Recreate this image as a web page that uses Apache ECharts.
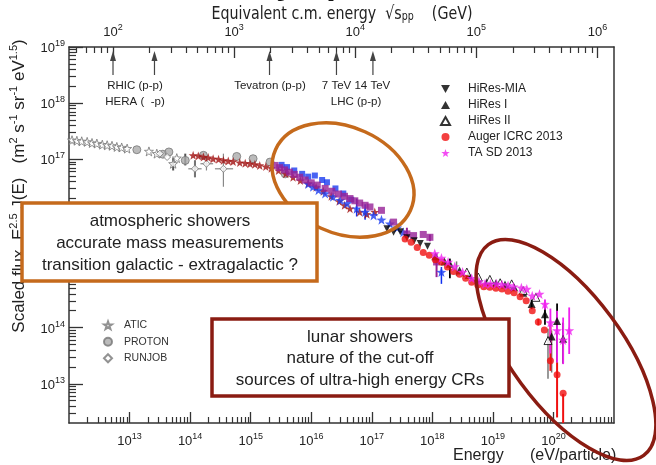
<!DOCTYPE html>
<html><head><meta charset="utf-8">
<script src="https://cdn.jsdelivr.net/npm/echarts@6/dist/echarts.min.js"></script>
<style>html,body{margin:0;padding:0;background:#fff}#c{width:656px;height:465px}</style>
</head><body><div id="c"></div>
<script>
// ---------- data: values are [log10(E / eV), log10(scaled flux)] ----------
const xMajorExp = [13,14,15,16,17,18,19,20,21];
const yMajorExp = [13,14,15,16,17,18,19];
const topMajorExp = [2,3,4,5,6];
const accelCmEnergies = [100, 220, 1960, 7000, 14000]; // GeV, arrows on the top axis

const aticPts = [[12.05,17.34],[12.13,17.33],[12.21,17.32],[12.30,17.31],[12.38,17.29],[12.46,17.28],[12.55,17.26],[12.63,17.25],[12.71,17.24],[12.79,17.22],[12.87,17.21],[12.96,17.19],[13.32,17.14],[13.45,17.10],[13.72,16.92],[13.78,17.02]];
const protonPts = [[13.12,17.17],[13.55,17.09],[13.65,17.13],[13.92,16.98],[14.22,17.07],[14.77,17.05],[15.04,17.01],[15.32,16.95],[15.57,16.74]];
const runjobPts = [[13.50,17.10],[13.62,17.04],[14.08,16.83],[14.27,16.92],[14.55,16.83]];
const tibetPts = [[14.05,17.07],[14.135,17.06],[14.22,17.04],[14.30,17.03],[14.38,17.01],[14.47,17.00],[14.55,16.98],[14.63,16.97],[14.71,16.96],[14.82,16.94],[14.91,16.93],[14.99,16.92],[15.07,16.91],[15.15,16.89],[15.25,16.87],[15.34,16.84],[15.46,16.80],[15.58,16.74],[15.70,16.68],[15.82,16.62],[15.95,16.57],[16.08,16.50],[16.20,16.43],[16.33,16.34],[16.46,16.25],[16.55,16.18],[16.64,16.12],[16.80,16.06],[16.92,16.02],[17.05,16.06]];
const blueSquarePts = [[15.51,16.90],[15.60,16.86],[15.72,16.80],[15.85,16.74],[15.95,16.69],[16.06,16.71],[16.18,16.63],[16.26,16.59],[16.40,16.48],[16.53,16.39],[16.66,16.28]];
const blueStarPts = [[15.95,16.56],[16.03,16.51],[16.12,16.45],[16.23,16.39],[16.36,16.33],[16.48,16.27],[16.59,16.21],[16.75,16.12],[16.89,16.06],[17.03,16.00],[17.16,15.92],[17.30,15.85],[17.42,15.78],[17.52,15.70],[18.15,14.99]];
const purplePts = [[15.40,16.89],[15.48,16.85],[15.56,16.81],[15.64,16.77],[15.72,16.73],[15.81,16.68],[15.90,16.63],[16.00,16.58],[16.10,16.54],[16.23,16.48],[16.34,16.43],[16.45,16.38],[16.55,16.34],[16.64,16.30],[16.72,16.26],[16.80,16.22],[16.89,16.18],[16.97,16.15],[17.16,16.09],[17.36,15.88],[17.58,15.67],[17.69,15.64],[17.85,15.66],[17.96,15.61],[18.07,15.17]];
const hiresMiaPts = [[17.25,15.76],[17.36,15.70],[17.47,15.71],[17.58,15.60],[17.70,15.55],[17.80,15.50],[17.92,15.45]];
const hiresIPts = [[18.05,15.27],[18.20,15.18],[18.29,15.14],[18.45,15.02],[18.60,14.94],[18.75,14.86],[18.90,14.81],[19.05,14.79],[19.20,14.77],[19.35,14.72],[19.50,14.62],[19.64,14.42],[19.86,14.24],[19.97,13.84],[20.06,14.12],[20.16,13.80]];
const hiresIIPts = [[18.57,14.99],[18.76,14.90],[18.95,14.86],[19.12,14.80],[19.31,14.78],[19.50,14.66],[19.71,14.54],[19.91,13.77]];
const augerPts = [[17.55,15.58],[17.65,15.52],[17.75,15.43],[17.85,15.34],[17.95,15.29],[18.05,15.21],[18.15,15.17],[18.25,15.08],[18.35,15.00],[18.45,14.95],[18.55,14.88],[18.65,14.81],[18.75,14.76],[18.85,14.73],[18.95,14.72],[19.05,14.70],[19.15,14.69],[19.25,14.65],[19.35,14.62],[19.45,14.55],[19.55,14.48],[19.65,14.30],[19.75,14.10],[19.85,13.96],[19.95,13.41],[20.06,13.16],[20.16,12.83]];
const taPts = [[18.04,15.32],[18.15,15.24],[18.26,15.17],[18.37,15.09],[18.50,14.99],[18.65,14.88],[18.77,14.82],[18.87,14.78],[18.96,14.78],[19.06,14.78],[19.15,14.77],[19.25,14.75],[19.34,14.73],[19.47,14.71],[19.56,14.69],[19.65,14.57],[19.77,14.60],[19.86,14.42],[19.95,14.09],[20.06,13.95],[20.16,13.78],[20.26,13.95]];

// error bars: [log10 E, log10 low, log10 high]
const grayErr = [[13.72,17.02,16.80],[13.92,17.10,16.89],[14.08,16.98,16.68]];
const runjobErr = [[14.08,16.98,16.68],[14.27,17.02,16.80],[14.55,17.10,16.51]];
const runjobXErr = [[16.83,13.97,14.19],[16.92,14.17,14.38],[16.83,14.41,14.71]]; // [log10 flux, log10 Elow, log10 Ehigh]
const blueErr = [[16.75,16.30,15.98],[16.89,16.20,15.92],[18.15,15.08,14.78]];
const purpleErr = [[17.58,15.78,15.60],[17.96,15.66,15.54],[18.07,15.32,14.90]];
const blackErr = [[18.29,15.23,14.88],[19.64,14.50,14.33],[19.86,14.36,14.05],[20.06,14.43,13.38],[20.16,14.09,13.36]];
const grayHiresErr = [[18.40,15.18,14.92],[19.91,13.98,13.09],[19.97,13.95,13.20]];
const augerErr = [[19.75,14.16,14.04],[19.95,14.04,13.23],[20.06,13.38,12.40],[20.16,12.82,12.0]];
const taErr = [[19.86,14.50,14.32],[19.95,14.34,13.54],[20.06,14.30,13.38],[20.16,14.18,13.35],[20.26,14.36,13.53]];

// ---------- helpers ----------
const P = v => Math.pow(10, v);
const toPts = a => a.map(d => [P(d[0]), P(d[1])]);
const toBars = a => a.map(d => [P(d[0]), P(d[1]), P(d[2])]);
const FONT = 'Liberation Sans';
const X_MIN = 1e12, X_MAX = 1e21, Y_MIN = 2e12, Y_MAX = 1e19;
const MP = 0.938;
const cmOf = E => Math.sqrt(2 * MP * E * 1e-9);   // sqrt(s) in GeV for lab energy E in eV
const TOP_MIN = cmOf(X_MIN), TOP_MAX = cmOf(X_MAX);
const minorVals = (e0, e1) => { const r = []; for (let e = e0; e <= e1; e++) for (let k = 2; k <= 9; k++) r.push(k * P(e)); return r; };
const STAR = 'path://M0,-10 L2.35,-3.24 L9.51,-3.09 L3.8,1.24 L5.88,8.09 L0,4 L-5.88,8.09 L-3.8,1.24 L-9.51,-3.09 L-2.35,-3.24 Z';
const DOWN_TRI = 'path://M0,0 L10,0 L5,9 Z';
const supFmt = v => '{b|10}{s|' + Math.round(Math.log10(v)) + '}';
const labRich = {
  b: {fontSize: 13, fontFamily: FONT, color: '#222', verticalAlign: 'bottom'},
  s: {fontSize: 9, fontFamily: FONT, color: '#222', verticalAlign: 'bottom', padding: [0, 0, 7, 0]}
};
const AX = '#333';

function vBar(bars, color, w) {
  return {type: 'custom', xAxisIndex: 0, yAxisIndex: 0, clip: true, z: 2, silent: true, data: toBars(bars),
    renderItem(p, api) {
      const a = api.coord([api.value(0), api.value(1)]), b = api.coord([api.value(0), api.value(2)]);
      return {type: 'line', shape: {x1: a[0], y1: a[1], x2: b[0], y2: b[1]}, style: {stroke: color, lineWidth: w}};
    }};
}
function hBar(bars, color, w) {
  return {type: 'custom', xAxisIndex: 0, yAxisIndex: 0, clip: true, z: 2, silent: true,
    data: bars.map(d => [P(d[1]), P(d[0]), P(d[2])]),
    renderItem(p, api) {
      const a = api.coord([api.value(0), api.value(1)]), b = api.coord([api.value(2), api.value(1)]);
      return {type: 'line', shape: {x1: a[0], y1: a[1], x2: b[0], y2: b[1]}, style: {stroke: color, lineWidth: w}};
    }};
}
function sc(name, pts, symbol, size, itemStyle, extra) {
  return Object.assign({type: 'scatter', name, xAxisIndex: 0, yAxisIndex: 0, data: toPts(pts), symbol, symbolSize: size, itemStyle, z: 3, silent: true}, extra || {});
}

const chart = echarts.init(document.getElementById('c'), null, {renderer: 'canvas'});
const xAxisBase = {type: 'log', min: X_MIN, max: X_MAX, splitLine: {show: false}, gridIndex: 0};
const topBase = {type: 'log', min: TOP_MIN, max: TOP_MAX, splitLine: {show: false}, gridIndex: 0, position: 'top'};
const yBase = {type: 'log', min: Y_MIN, max: Y_MAX, splitLine: {show: false}, gridIndex: 0};

const option = {
  animation: false,
  backgroundColor: '#fff',
  grid: {left: 69, right: 42, top: 47, bottom: 42, containLabel: false},
  xAxis: [
    Object.assign({}, xAxisBase, {position: 'bottom',
      axisLine: {show: true, lineStyle: {color: AX, width: 1.5}},
      axisTick: {show: true, inside: true, length: 11, customValues: xMajorExp.map(P), lineStyle: {color: AX, width: 1.3}},
      axisLabel: {show: true, customValues: xMajorExp.map(P), formatter: supFmt, rich: labRich, margin: 9}}),
    Object.assign({}, xAxisBase, {position: 'bottom', axisLine: {show: false},
      axisTick: {show: true, inside: true, length: 6, customValues: minorVals(12, 20), lineStyle: {color: AX, width: 1.2}},
      axisLabel: {show: false}}),
    Object.assign({}, topBase, {
      axisLine: {show: true, lineStyle: {color: AX, width: 1.5}},
      axisTick: {show: true, inside: true, length: 11, customValues: topMajorExp.map(P), lineStyle: {color: AX, width: 1.3}},
      axisLabel: {show: true, customValues: topMajorExp.map(P), formatter: supFmt, rich: labRich, margin: 8}}),
    Object.assign({}, topBase, {axisLine: {show: false},
      axisTick: {show: true, inside: true, length: 6, customValues: minorVals(1, 6).filter(v => v > TOP_MIN && v < TOP_MAX), lineStyle: {color: AX, width: 1.2}},
      axisLabel: {show: false}})
  ],
  yAxis: [
    Object.assign({}, yBase, {position: 'left',
      axisLine: {show: true, lineStyle: {color: AX, width: 1.5}},
      axisTick: {show: true, inside: true, length: 14, customValues: yMajorExp.map(P), lineStyle: {color: AX, width: 1.3}},
      axisLabel: {show: true, customValues: yMajorExp.map(P), formatter: supFmt, rich: labRich, margin: 4}}),
    Object.assign({}, yBase, {position: 'left', axisLine: {show: false},
      axisTick: {show: true, inside: true, length: 7, customValues: minorVals(12, 18).filter(v => v > Y_MIN), lineStyle: {color: AX, width: 1.2}},
      axisLabel: {show: false}}),
    Object.assign({}, yBase, {position: 'right', axisLine: {show: true, lineStyle: {color: AX, width: 1.5}},
      axisTick: {show: false}, axisLabel: {show: false}})
  ],
  legend: [
    {data: [{name: 'HiRes-MIA', icon: DOWN_TRI}, 'HiRes I', 'HiRes II', 'Auger ICRC 2013', 'TA SD 2013'], orient: 'vertical', left: 440, top: 81,
      itemWidth: 9, itemHeight: 8, itemGap: 0, selectedMode: false, padding: 0, symbolKeepAspect: true,
      textStyle: {fontSize: 12, color: '#222', fontFamily: FONT, lineHeight: 16, padding: [0, 0, 0, 13]}},
    {data: ['ATIC', 'PROTON', 'RUNJOB'], orient: 'vertical', left: 103, top: 317,
      itemWidth: 8, itemHeight: 8, itemGap: 0, selectedMode: false, padding: 0, symbolKeepAspect: true,
      textStyle: {fontSize: 10.5, color: '#333', fontFamily: FONT, lineHeight: 16.5, padding: [0, 0, 0, 7]}}
  ],
  series: [
    // arrows marking collider energies (top axis)
    {type: 'custom', xAxisIndex: 2, yAxisIndex: 0, silent: true, z: 4, clip: false,
      data: accelCmEnergies.map(v => [v, Y_MAX]),
      renderItem(p, api) {
        const c = api.coord([api.value(0), api.value(1)]);
        const x = c[0], y = c[1];
        return {type: 'group', children: [
          {type: 'line', shape: {x1: x, y1: y + 10, x2: x, y2: y + 28}, style: {stroke: '#444', lineWidth: 1.2}},
          {type: 'polygon', shape: {points: [[x, y + 4], [x - 3, y + 14], [x + 3, y + 14]]}, style: {fill: '#444'}}
        ]};
      }},
    vBar(grayErr, '#555', 2),
    vBar(runjobErr, '#888', 1.2),
    hBar(runjobXErr, '#888', 1.2),
    sc('ATIC', aticPts, STAR, 9, {color: '#fff', borderColor: '#777', borderWidth: 1}),
    sc('PROTON', protonPts, 'circle', 8, {color: '#aaa', borderColor: '#777', borderWidth: 1}),
    sc('RUNJOB', runjobPts, 'diamond', 7, {color: '#fff', borderColor: '#777', borderWidth: 1}),
    sc('Tibet', tibetPts, STAR, 9, {color: '#a00f0f'}),
    vBar(blueErr, '#1030f0', 1.5),
    sc('IceTop', blueSquarePts, 'rect', 6, {color: '#1a3cf0'}),
    sc('KASCADE-Grande', blueStarPts, STAR, 10, {color: '#1a3cf0'}),
    vBar(purpleErr, '#962196', 2),
    sc('Purple', purplePts, 'rect', 7, {color: '#962196'}),
    sc('HiRes-MIA', hiresMiaPts, 'triangle', 7, {color: '#000'}, {symbolRotate: 180}),
    vBar(grayHiresErr, '#777', 1.5),
    vBar(blackErr, '#000', 1.8),
    sc('HiRes I', hiresIPts, 'triangle', 8, {color: '#000'}),
    sc('HiRes II', hiresIIPts, 'triangle', 8, {color: '#fff', borderColor: '#000', borderWidth: 1}),
    vBar(augerErr, '#f01010', 2),
    sc('Auger ICRC 2013', augerPts, 'circle', 7, {color: '#f01010'}),
    vBar(taErr, '#f020f0', 1.8),
    sc('TA SD 2013', taPts, STAR, 10, {color: '#f020f0'})
  ],
  graphic: [
    // cut-off slide title
    {type: 'text', z: 1, left: 100, top: -35, style: {text: 'Cosmic-ray spectrum', font: 'bold 36px Liberation Sans', fill: '#111'}},
    {type: 'text', z: 1, x: 342, y: 14, scaleX: 0.79, style: {
      text: '{t|Equivalent c.m. energy  \u221A}{t|s}{d|pp}{t|    (GeV)}', align: 'center', verticalAlign: 'middle',
      rich: {t: {fontSize: 18, fontFamily: 'DejaVu Sans', fill: '#222', verticalAlign: 'bottom'},
             d: {fontSize: 12, fontFamily: 'DejaVu Sans', fill: '#222', verticalAlign: 'bottom', padding: [6, 0, 0, 0]}}}},
    // y axis title
    {type: 'text', z: 1, x: 18, y: 186, rotation: Math.PI / 2, style: {
      text: '{t|Scaled flux  E}{u|2.5}{t| J(E)   (m}{u|2}{t| s}{u|-1}{t| sr}{u|-1}{t| eV}{u|1.5}{t|)}',
      align: 'center', verticalAlign: 'middle',
      rich: {t: {fontSize: 17, fontFamily: FONT, fill: '#222', verticalAlign: 'bottom'},
             u: {fontSize: 11, fontFamily: FONT, fill: '#222', verticalAlign: 'bottom', padding: [0, 0, 8, 0]}}}},
    // x axis title
    {type: 'text', z: 1, x: 453, y: 456, style: {text: 'Energy', font: '16px Liberation Sans', fill: '#222', verticalAlign: 'middle'}},
    {type: 'text', z: 1, x: 530, y: 456, style: {text: '(eV/particle)', font: '16px Liberation Sans', fill: '#222', verticalAlign: 'middle'}},
    // accelerator labels
    {type: 'text', z: 5, x: 135, y: 86, style: {text: 'RHIC (p-p)', font: '11.5px Liberation Sans', fill: '#222', align: 'center', verticalAlign: 'middle'}},
    {type: 'text', z: 5, x: 135, y: 102, style: {text: 'HERA (  -p)', font: '11.5px Liberation Sans', fill: '#222', align: 'center', verticalAlign: 'middle'}},
    {type: 'text', z: 5, x: 270, y: 86, style: {text: 'Tevatron (p-p)', font: '11.5px Liberation Sans', fill: '#222', align: 'center', verticalAlign: 'middle'}},
    {type: 'text', z: 5, x: 356, y: 86, style: {text: '7 TeV 14 TeV', font: '11.5px Liberation Sans', fill: '#222', align: 'center', verticalAlign: 'middle'}},
    {type: 'text', z: 5, x: 356, y: 102, style: {text: 'LHC (p-p)', font: '11.5px Liberation Sans', fill: '#222', align: 'center', verticalAlign: 'middle'}},
    // annotation ellipses
    {type: 'ellipse', z: 6, x: 343, y: 180, rotation: -24.4 * Math.PI / 180, shape: {cx: 0, cy: 0, rx: 74, ry: 53},
      style: {fill: 'none', stroke: '#c56a1c', lineWidth: 3.5}},
    {type: 'ellipse', z: 6, x: 566, y: 350, rotation: -53.6 * Math.PI / 180, shape: {cx: 0, cy: 0, rx: 131, ry: 56},
      style: {fill: 'none', stroke: '#8a1c12', lineWidth: 3.5}},
    // annotation boxes
    {type: 'rect', z: 10, shape: {x: 22, y: 203, width: 295, height: 78}, style: {fill: '#fff', stroke: '#c56a1c', lineWidth: 3.5}},
    {type: 'text', z: 11, x: 170, y: 221, style: {text: 'atmospheric showers', font: '17px Liberation Sans', fill: '#222', align: 'center', verticalAlign: 'middle'}},
    {type: 'text', z: 11, x: 170, y: 243, style: {text: 'accurate mass measurements', font: '17px Liberation Sans', fill: '#222', align: 'center', verticalAlign: 'middle'}},
    {type: 'text', z: 11, x: 170, y: 265, style: {text: 'transition galactic - extragalactic ?', font: '17px Liberation Sans', fill: '#222', align: 'center', verticalAlign: 'middle'}},
    {type: 'rect', z: 10, shape: {x: 212, y: 319, width: 297, height: 77}, style: {fill: '#fff', stroke: '#8a1c12', lineWidth: 3.5}},
    {type: 'text', z: 11, x: 360, y: 337, style: {text: 'lunar showers', font: '17px Liberation Sans', fill: '#222', align: 'center', verticalAlign: 'middle'}},
    {type: 'text', z: 11, x: 360, y: 358, style: {text: 'nature of the cut-off', font: '17px Liberation Sans', fill: '#222', align: 'center', verticalAlign: 'middle'}},
    {type: 'text', z: 11, x: 360, y: 380, style: {text: 'sources of ultra-high energy CRs', font: '17px Liberation Sans', fill: '#222', align: 'center', verticalAlign: 'middle'}}
  ]
};
chart.setOption(option);
</script>
</body></html>
